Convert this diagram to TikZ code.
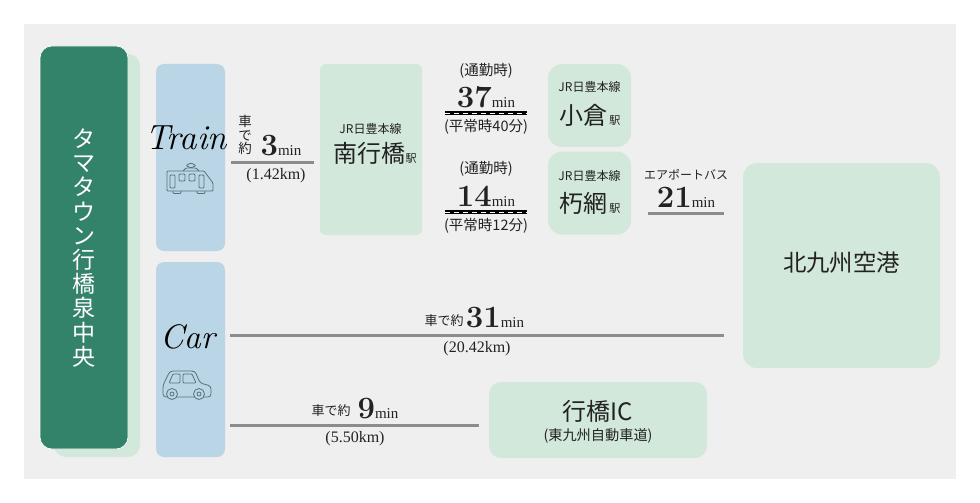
\documentclass[tikz,border=0pt]{standalone}
\usepackage{fontspec}
\newfontfamily\cjk{Noto Sans CJK JP}
\newfontfamily\unitfont{Liberation Serif}
\usetikzlibrary{positioning}

\definecolor{panelgrey}{HTML}{EFEFEF}
\definecolor{deepgreen}{HTML}{33826A}
\definecolor{palegreen}{HTML}{D2E8DA}
\definecolor{paleblue}{HTML}{B9D5E6}
\definecolor{roadgrey}{HTML}{8C8C8C}
\definecolor{inkgrey}{HTML}{222222}
\definecolor{icongrey}{HTML}{5A6F7C}

\newcommand{\mins}[2]{{\fontsize{#2}{#2}\selectfont\bfseries #1}{\unitfont\fontsize{15}{15}\selectfont min}}
\newcommand{\jp}[2]{{\cjk\fontsize{#1}{#1}\selectfont #2}}
\newcommand{\dist}[1]{{\unitfont\fontsize{16}{16}\selectfont #1}}

\tikzset{
    tile/.style={rounded corners=#1, inner sep=0pt, text=inkgrey, align=center},
    tile/.default=12pt,
    road/.style={draw=roadgrey, line width=3pt},
    rail/.style={draw=black, line width=3.4pt},
    railgap/.style={draw=white, line width=1pt, dash pattern=on 5pt off 4pt},
    lbl/.style={inner sep=0pt, text=inkgrey, align=center},
    icon/.style={draw=icongrey, line width=0.8pt, rounded corners=1pt},
    script/.style={inner sep=0pt, text=black, font=\itshape},
}

\begin{document}
\begin{tikzpicture}[x=1pt, y=-1pt]

\useasboundingbox (0, 0) rectangle (980, 503);
\fill[white] (0, 0) rectangle (980, 503);
\fill[panelgrey] (24, 24) rectangle (956, 479);

% left column
\node[tile=12pt, fill=palegreen, minimum width=86pt, minimum height=403pt] (backbox) at (97, 255.5) {};
\node[tile=12pt, fill=deepgreen, draw=white, line width=0.6pt, minimum width=88pt, minimum height=403pt,
      text=white] (homebox) at (84, 247.5) {};
\node[lbl, text=white, font=\cjk\fontsize{23}{24.2}\selectfont] (hometxt) at (84, 248) {%
    タ\\マ\\タ\\ウ\\ン\\行\\橋\\泉\\中\\央};

% transport columns
\node[tile=8pt, fill=paleblue, minimum width=69pt, minimum height=187pt] (trainbox) at (190.5, 157.5) {};
\node[tile=8pt, fill=paleblue, minimum width=69pt, minimum height=195pt] (carbox) at (190.5, 359.5) {};
\node[script] (traintxt) at (186, 138) {\fontsize{35}{35}\selectfont Train};
\node[script] (cartxt) at (187.5, 337) {\fontsize{34}{34}\selectfont Car};

% train icon
\begin{scope}[shift={(190, 181)}]
    \draw[icon] (-23, -10) -- (14, -10) -- (23, 2) -- (23, 10) -- (-23, 10) -- cycle;
    \draw[icon] (-20, -6) rectangle (-15, 7);
    \draw[icon] (-11, -7) rectangle (-5, 0);
    \draw[icon] (-1, -7) rectangle (5, 0);
    \draw[icon] (9, -6) rectangle (14, 7);
    \draw[icon] (-7, -10) -- (-4, -13) -- (6, -13) -- (9, -10);
    \draw[icon] (1, -18) -- (6, -15.5) -- (1, -13) -- (-4, -15.5) -- cycle;
    \draw[icon] (-17, 10) -- (-17, 12.5) -- (-9, 12.5) -- (-9, 10);
    \draw[icon] (7, 10) -- (7, 12.5) -- (15, 12.5) -- (15, 10);
\end{scope}

% car icon
\begin{scope}[shift={(187, 385)}]
    \draw[icon, rounded corners=3pt] (-24, 12) -- (-24, 0) -- (-17, -14) -- (8, -14) -- (13, -2)
        -- (24, 1) -- (24, 12) -- cycle;
    \draw[icon] (-18, -2) -- (-14, -11) -- (-7, -11) -- (-7, -2) -- cycle;
    \draw[icon] (-4, -2) -- (-4, -11) -- (5, -11) -- (9, -2) -- cycle;
    \draw[icon, fill=paleblue] (-15, 9) circle (5.5);
    \draw[icon, fill=paleblue] (-15, 9) circle (2);
    \draw[icon, fill=paleblue] (12, 9) circle (5.5);
    \draw[icon, fill=paleblue] (12, 9) circle (2);
\end{scope}

% stations
\node[tile=6pt, fill=palegreen, minimum width=102pt, minimum height=171pt] (minamibox) at (371, 149.5) {};
\node[lbl] (minamiline) at (370.5, 129) {\jp{12}{JR日豊本線}};
\node[lbl] (minamitxt) at (375, 153) {\jp{24}{南行橋}\jp{11}{駅}};

\node[tile=14pt, fill=palegreen, minimum width=83pt, minimum height=83pt] (kokurabox) at (589.5, 105.5) {};
\node[lbl] (kokuraline) at (589.5, 87) {\jp{12}{JR日豊本線}};
\node[lbl] (kokuratxt) at (590, 115) {\jp{24}{小倉}\,\jp{11}{駅}};

\node[tile=14pt, fill=palegreen, minimum width=83pt, minimum height=83pt] (kutsubox) at (589.5, 193) {};
\node[lbl] (kutsuline) at (589.5, 176) {\jp{12}{JR日豊本線}};
\node[lbl] (kutsutxt) at (590, 203) {\jp{24}{朽網}\,\jp{11}{駅}};

\node[tile=14pt, fill=palegreen, minimum width=197pt, minimum height=205pt] (airportbox) at (841.5, 265.5) {};
\node[lbl] (airporttxt) at (841.5, 263) {\jp{23.4}{北九州空港}};
\node[tile=12pt, fill=palegreen, minimum width=218pt, minimum height=76pt] (icbox) at (598, 420) {};
\node[lbl] (ictxt) at (598, 411) {\jp{24}{行橋IC}};
\node[lbl] (icsub) at (598, 436) {\jp{14.2}{(東九州自動車道)}};

% free ends of the lines
\coordinate (tA) at (231, 162);
\coordinate (tB) at (314, 162);
\coordinate (kA) at (445, 113);
\coordinate (kB) at (527, 113);
\coordinate (uA) at (445, 212);
\coordinate (uB) at (527, 212);
\coordinate (bA) at (648, 213.5);
\coordinate (bB) at (724, 213.5);
\coordinate (cA) at (230, 335);
\coordinate (cB) at (724, 335);
\coordinate (iA) at (230, 425);
\coordinate (iB) at (479, 425);

\draw[road] (tA) -- (tB);
\draw[rail] (kA) -- (kB);
\draw[railgap] (kA) -- (kB);
\draw[rail] (uA) -- (uB);
\draw[railgap] (uA) -- (uB);
\draw[road] (bA) -- (bB);
\draw[road] (cA) -- (cB);
\draw[road] (iA) -- (iB);

% times
\node[lbl, font=\cjk\fontsize{13.5}{13.5}\selectfont] (walktxt) at (245, 135) {車\\で\\約};
\node[lbl] (walkmin) at (281, 146) {\mins{3}{31}};
\node[lbl] (walkkm) at (276, 176) {\dist{(1.42km)}};

\node[lbl] (kcommute) at (486, 71) {\jp{14.5}{(通勤時)}};
\node[lbl] (kmin) at (486, 97) {\mins{37}{31}};
\node[lbl] (knorm) at (486, 127) {\jp{14.5}{(平常時40分)}};

\node[lbl] (ucommute) at (486, 169) {\jp{14.5}{(通勤時)}};
\node[lbl] (umin) at (486, 196) {\mins{14}{31}};
\node[lbl] (unorm) at (486, 226) {\jp{14.5}{(平常時12分)}};

\node[lbl] (bustxt) at (686, 175) {\jp{12}{エアポートバス}};
\node[lbl] (busmin) at (686, 197) {\mins{21}{31}};

\node[lbl] (drive1) at (444, 321) {\jp{13}{車で約}};
\node[lbl] (drive1min) at (495, 318) {\mins{31}{31}};
\node[lbl] (drive1km) at (477, 349) {\dist{(20.42km)}};

\node[lbl] (drive2) at (331, 411) {\jp{13}{車で約}};
\node[lbl] (drive2min) at (378, 409) {\mins{9}{31}};
\node[lbl] (drive2km) at (355, 439) {\dist{(5.50km)}};

\end{tikzpicture}
\end{document}
